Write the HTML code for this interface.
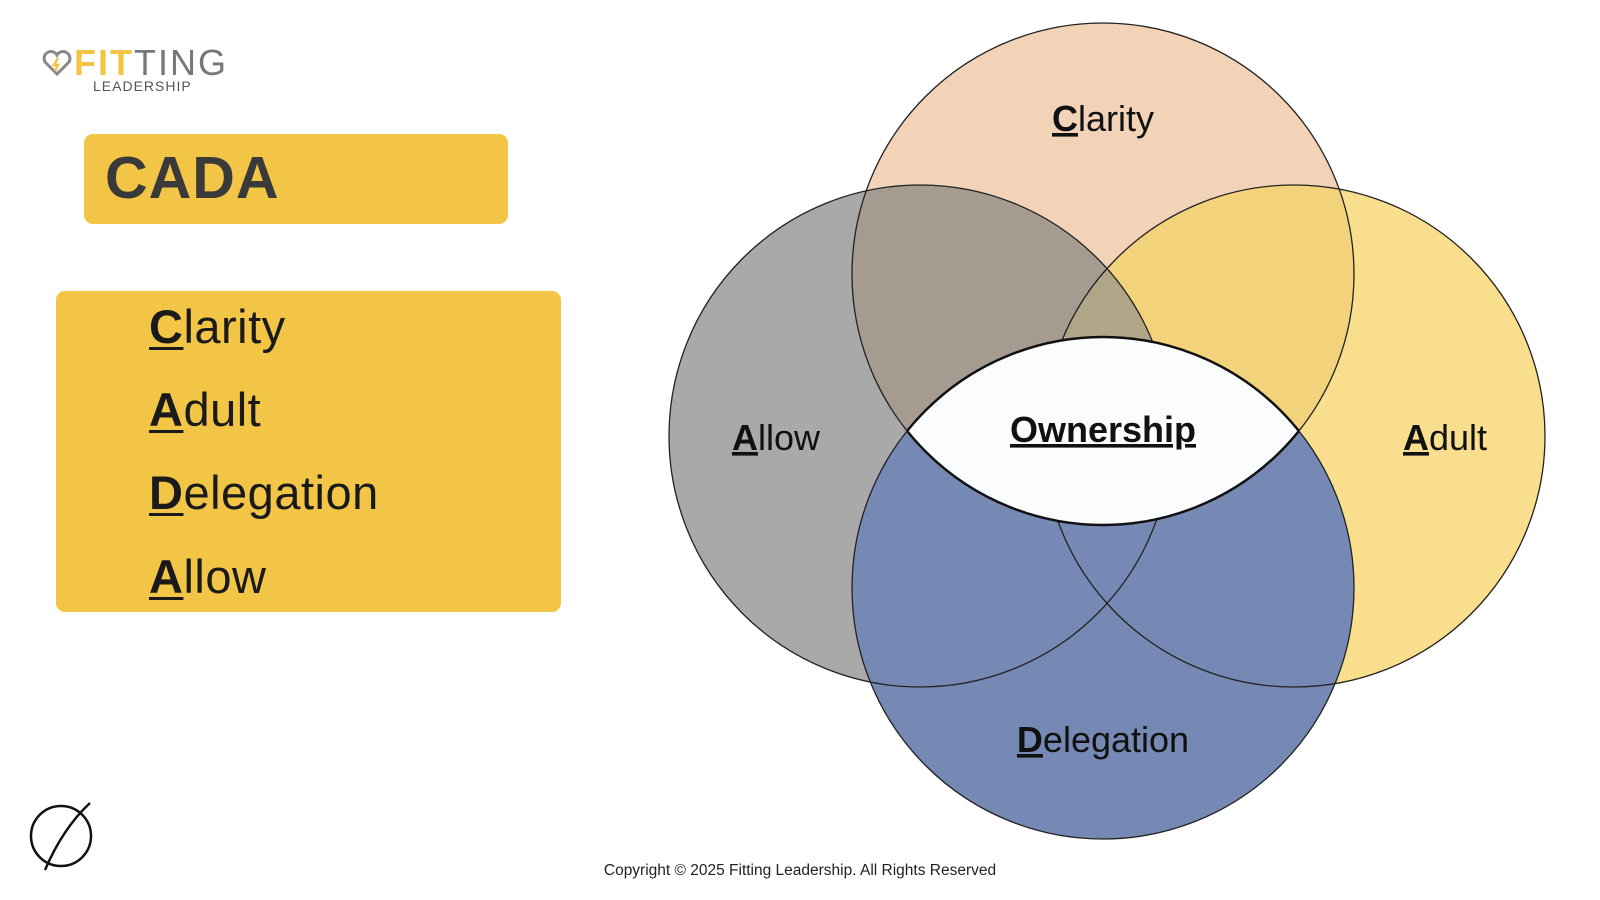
<!DOCTYPE html>
<html><head><meta charset="utf-8"><style>
html,body{margin:0;padding:0;background:#fff;}
body{width:1600px;height:900px;position:relative;overflow:hidden;font-family:"Liberation Sans",sans-serif;}
.box{position:absolute;background:#f3c547;border-radius:9px;}
.item{position:absolute;left:149px;font-size:47px;color:#1a1a1a;letter-spacing:0.5px;}
.item u{font-weight:bold;text-decoration-thickness:3px;text-underline-offset:4px;}
</style></head><body>
<div style="position:absolute;left:41px;top:45px;">
<svg width="32" height="28" viewBox="0 0 32 28" style="position:absolute;left:0;top:4px"><path d="M16 25 L4 13 A6 6 0 0 1 16 6 A6 6 0 0 1 28 13 Z" fill="none" stroke="#888" stroke-width="3"/><path d="M17 9 L13 16 L17 16 L14 22" fill="none" stroke="#f3c547" stroke-width="2.5"/></svg>
<div style="position:absolute;left:33px;top:-3px;font-size:36px;letter-spacing:2px;white-space:nowrap"><span style="color:#f3c547;font-weight:bold">FIT</span><span style="color:#777">TING</span></div>
<div style="position:absolute;left:52px;top:33px;font-size:14px;letter-spacing:1px;color:#555">LEADERSHIP</div>
</div>
<div class="box" style="left:84px;top:134px;width:424px;height:90px;"></div>
<div style="position:absolute;left:105px;top:144px;font-size:59px;font-weight:bold;color:#3a3a3a;letter-spacing:1px">CADA</div>
<div class="box" style="left:56px;top:291px;width:505px;height:321px;"></div>
<div class="item" style="top:299px"><u>C</u>larity</div>
<div class="item" style="top:382px"><u>A</u>dult</div>
<div class="item" style="top:465px"><u>D</u>elegation</div>
<div class="item" style="top:549px"><u>A</u>llow</div>
<svg width="1600" height="900" style="position:absolute;left:0;top:0">
<defs>
<clipPath id="cC"><circle cx="1103" cy="274" r="251"/></clipPath>
<clipPath id="cL"><circle cx="920" cy="436" r="251"/></clipPath>
<clipPath id="cD"><circle cx="1103" cy="588" r="251"/></clipPath>
</defs>
<circle cx="1103" cy="274" r="251" fill="#f2d3b8"/>
<circle cx="920" cy="436" r="251" fill="#a9a9a9"/>
<circle cx="1294" cy="436" r="251" fill="#f8de8d"/>
<g clip-path="url(#cC)"><circle cx="920" cy="436" r="251" fill="#a59b90"/><circle cx="1294" cy="436" r="251" fill="#f3d27c"/>
<g clip-path="url(#cL)"><circle cx="1294" cy="436" r="251" fill="#b0a586"/></g></g>
<circle cx="1103" cy="588" r="251" fill="#7689b4"/>
<g fill="none" stroke="#222" stroke-width="1.3">
<circle cx="1103" cy="274" r="251"/><circle cx="920" cy="436" r="251"/><circle cx="1294" cy="436" r="251"/><circle cx="1103" cy="588" r="251"/>
</g>
<g clip-path="url(#cC)"><g clip-path="url(#cD)"><rect x="0" y="0" width="1600" height="900" fill="#fbfcfd"/></g></g>
<g clip-path="url(#cC)"><circle cx="1103" cy="588" r="251" fill="none" stroke="#111" stroke-width="2.5"/></g>
<g clip-path="url(#cD)"><circle cx="1103" cy="274" r="251" fill="none" stroke="#111" stroke-width="2.5"/></g>
<g font-family="Liberation Sans, sans-serif" fill="#111" text-anchor="middle" font-size="36">
<text x="1103" y="131"><tspan text-decoration="underline" font-weight="bold">C</tspan>larity</text>
<text x="776" y="450"><tspan text-decoration="underline" font-weight="bold">A</tspan>llow</text>
<text x="1445" y="450"><tspan text-decoration="underline" font-weight="bold">A</tspan>dult</text>
<text x="1103" y="752"><tspan text-decoration="underline" font-weight="bold">D</tspan>elegation</text>
<text x="1103" y="442" font-weight="bold" text-decoration="underline">Ownership</text>
</g>
<circle cx="61" cy="836" r="30" fill="none" stroke="#111" stroke-width="2.5"/>
<path d="M90 803 Q63 828 45 870" fill="none" stroke="#111" stroke-width="2.5"/>
<text x="800" y="875" text-anchor="middle" font-family="Liberation Sans, sans-serif" font-size="15.5" fill="#222">Copyright © 2025 Fitting Leadership. All Rights Reserved</text>
</svg>
</body></html>
